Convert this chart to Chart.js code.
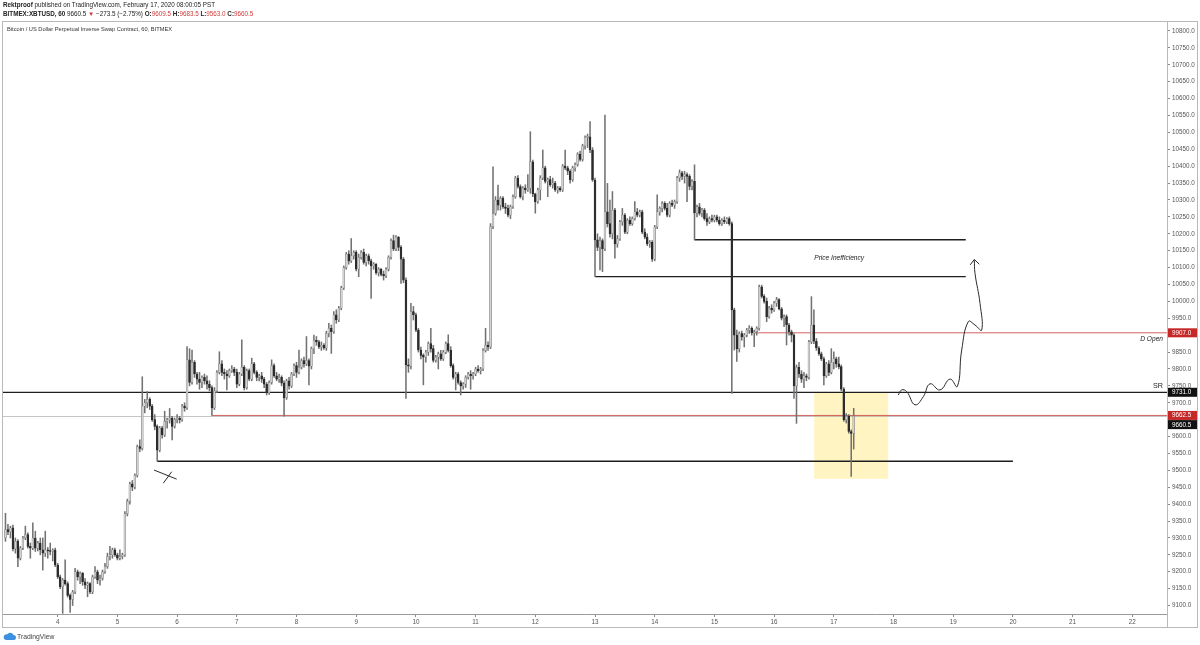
<!DOCTYPE html>
<html><head><meta charset="utf-8">
<script src="https://cdn.jsdelivr.net/npm/chart.js@4.4.1/dist/chart.umd.min.js"></script>
<style>
html,body{margin:0;padding:0;background:#fff;}
#wrap{position:relative;width:1200px;height:645px;overflow:hidden;font-family:"Liberation Sans",Arial,sans-serif;}
#c{position:absolute;left:0;top:0;}
.t{position:absolute;white-space:nowrap;line-height:1;color:#222;}
.red{color:#d23a3a}
</style></head><body>
<div id="wrap">
<canvas id="c" width="1200" height="645"></canvas>
<div class="t" style="left:3px;top:2px;font-size:6.3px"><b>Rektproof</b> published on TradingView.com, February 17, 2020 08:00:05 PST</div>
<div class="t" style="left:3px;top:10.5px;font-size:6.3px"><b>BITMEX:XBTUSD, 60</b> 9660.5 <span class="red">▼</span> −273.5 (−2.75%) <b>O:</b><span class="red">9609.5</span> <b>H:</b><span class="red">9683.5</span> <b>L:</b><span class="red">9563.0</span> <b>C:</b><span class="red">9660.5</span></div>
<div class="t" style="left:7px;top:27px;font-size:5.7px;color:#333">Bitcoin / US Dollar Perpetual Inverse Swap Contract, 60, BITMEX</div>
<svg style="position:absolute;left:3px;top:632px" width="13" height="8" viewBox="0 0 26 16"><path d="M6 16 H21 A5 5 0 0 0 21 6 A7 7 0 0 0 8.5 4.5 A5.5 5.5 0 0 0 6 16Z" fill="#3d8fe0"/></svg>
<div class="t" style="left:17px;top:634px;font-size:6.8px;color:#444">TradingView</div>
</div>
<script>
// ---- hourly candles [open, high, low, close] per day (Feb 2020) ----
const feb03 = [[9300,9373,9290,9325],[9325,9340,9310,9318],[9318,9335,9300,9330],[9330,9338,9262,9268],[9268,9300,9255,9290],[9290,9295,9215,9240],[9240,9275,9235,9270],[9270,9305,9265,9300],[9300,9335,9295,9310],[9310,9315,9270,9275],[9275,9285,9240,9270],[9270,9345,9265,9300],[9300,9320,9260,9270],[9270,9290,9262,9285],[9285,9300,9250,9265],[9265,9300,9205,9255],[9255,9320,9245,9265],[9265,9272,9240,9262],[9262,9285,9250,9260],[9260,9268,9232,9264],[9264,9270,9215,9220]];
const feb04 = [[9220,9225,9180,9185],[9185,9190,9150,9156],[9156,9180,9077,9175],[9175,9235,9160,9165],[9165,9170,9125,9130],[9130,9135,9080,9118],[9118,9145,9100,9140],[9140,9210,9135,9200],[9200,9205,9175,9185],[9185,9200,9165,9195],[9195,9198,9160,9170],[9170,9180,9150,9160],[9160,9170,9126,9165],[9165,9168,9135,9140],[9140,9190,9135,9185],[9185,9215,9180,9200],[9200,9205,9165,9175],[9175,9190,9160,9180],[9180,9205,9175,9200],[9200,9225,9195,9215],[9215,9255,9210,9245],[9245,9275,9235,9250],[9250,9270,9240,9265],[9265,9270,9245,9250]];
const feb05 = [[9250,9255,9235,9240],[9240,9265,9235,9245],[9245,9255,9238,9250],[9250,9378,9245,9372],[9372,9415,9365,9408],[9408,9465,9400,9460],[9460,9470,9440,9450],[9450,9490,9445,9485],[9485,9575,9480,9570],[9570,9590,9555,9565],[9565,9777,9560,9690],[9690,9710,9670,9700],[9700,9733,9685,9710],[9710,9715,9680,9690],[9690,9695,9645,9650],[9650,9665,9620,9630],[9630,9635,9527,9560],[9560,9630,9555,9625],[9625,9630,9595,9605],[9605,9675,9600,9645],[9645,9655,9625,9650],[9650,9683,9640,9655],[9655,9660,9590,9630],[9630,9655,9625,9650]];
const feb06 = [[9650,9665,9640,9655],[9655,9660,9640,9650],[9650,9695,9645,9690],[9690,9700,9675,9685],[9685,9866,9680,9827],[9827,9860,9750,9760],[9760,9856,9755,9820],[9820,9825,9775,9785],[9785,9790,9755,9770],[9770,9790,9740,9760],[9760,9780,9745,9775],[9775,9785,9755,9765],[9765,9780,9740,9755],[9755,9765,9735,9745],[9745,9750,9662.5,9685],[9685,9745,9680,9735],[9735,9795,9730,9790],[9790,9851,9785,9815],[9815,9825,9780,9790],[9790,9800,9770,9785],[9785,9795,9738,9780],[9780,9800,9775,9795],[9795,9810,9790,9800],[9800,9805,9780,9790]];
const feb07 = [[9790,9800,9745,9755],[9755,9790,9750,9785],[9785,9886,9780,9805],[9805,9810,9738,9745],[9745,9800,9740,9795],[9795,9800,9765,9770],[9770,9832,9765,9815],[9815,9820,9785,9790],[9790,9795,9765,9775],[9775,9785,9765,9780],[9780,9790,9760,9770],[9770,9775,9745,9755],[9755,9760,9723,9730],[9730,9765,9725,9760],[9760,9827,9755,9810],[9810,9815,9775,9780],[9780,9790,9765,9770],[9770,9785,9760,9775],[9775,9780,9750,9758],[9758,9765,9660,9715],[9715,9770,9710,9765],[9765,9775,9740,9750],[9750,9790,9745,9785],[9785,9815,9780,9810]];
const feb08 = [[9810,9820,9775,9790],[9790,9856,9785,9805],[9805,9830,9800,9825],[9825,9835,9805,9815],[9815,9896,9810,9825],[9825,9830,9753,9808],[9808,9865,9800,9860],[9860,9900,9845,9885],[9885,9896,9870,9880],[9880,9885,9860,9865],[9865,9880,9855,9870],[9870,9875,9858,9862],[9862,9912,9855,9905],[9905,9935,9895,9920],[9920,9930,9846,9910],[9910,9970,9905,9960],[9960,9975,9935,9945],[9945,9985,9940,9980],[9980,10045,9975,10040],[10040,10105,10035,10100],[10100,10145,10095,10140],[10140,10150,10110,10120],[10120,10186,10115,10135],[10135,10150,10125,10145]];
const feb09 = [[10145,10150,10090,10095],[10095,10140,10073,10130],[10130,10150,10125,10145],[10145,10155,10110,10115],[10115,10140,10105,10135],[10135,10140,10110,10120],[10120,10125,10009,10105],[10105,10115,10095,10110],[10110,10112,10080,10085],[10085,10100,10075,10095],[10095,10098,10075,10080],[10080,10090,10063,10075],[10075,10100,10070,10095],[10095,10135,10090,10130],[10130,10185,10125,10180],[10180,10196,10150,10155],[10155,10195,10150,10190],[10190,10192,10150,10160],[10160,10165,10053,10125],[10125,10130,10055,10063],[10063,10070,9713,9812],[9812,9830,9790,9808],[9808,9994,9800,9970],[9970,9985,9945,9960]];
const feb10 = [[9960,9965,9910,9915],[9915,9920,9850,9856],[9856,9865,9830,9840],[9840,9845,9753,9835],[9835,9855,9820,9850],[9850,9880,9840,9875],[9875,9920,9850,9860],[9860,9870,9820,9825],[9825,9840,9820,9835],[9835,9850,9800,9845],[9845,9855,9825,9830],[9830,9855,9825,9850],[9850,9880,9845,9875],[9875,9901,9850,9855],[9855,9866,9805,9810],[9810,9815,9770,9775],[9775,9790,9738,9785],[9785,9790,9755,9760],[9760,9765,9723,9750],[9750,9760,9740,9755],[9755,9780,9745,9775],[9775,9790,9770,9785],[9785,9795,9740,9780],[9780,9790,9770,9785]];
const feb11 = [[9785,9805,9780,9800],[9800,9810,9790,9795],[9795,9805,9785,9800],[9800,9860,9795,9855],[9855,9920,9850,9870],[9870,9880,9855,9865],[9865,10230,9860,10221],[10221,10398,10215,10260],[10260,10310,10255,10300],[10300,10344,10270,10285],[10285,10310,10270,10305],[10305,10310,10275,10280],[10280,10290,10260,10275],[10275,10285,10250,10255],[10255,10285,10245,10280],[10280,10315,10275,10310],[10310,10370,10305,10365],[10365,10372,10335,10340],[10340,10345,10305,10310],[10310,10340,10300,10335],[10335,10345,10320,10330],[10330,10375,10325,10335],[10335,10502,10320,10413],[10413,10418,10310,10318]];
const feb12 = [[10318,10320,10261,10295],[10295,10335,10290,10330],[10330,10372,10300,10365],[10365,10448,10360,10395],[10395,10400,10350,10355],[10355,10365,10310,10360],[10360,10370,10340,10345],[10345,10365,10335,10350],[10350,10355,10325,10330],[10330,10340,10320,10335],[10335,10340,10325,10330],[10330,10405,10325,10400],[10400,10448,10390,10395],[10395,10400,10375,10385],[10385,10390,10350,10360],[10360,10400,10355,10395],[10395,10410,10385,10405],[10405,10440,10400,10435],[10435,10445,10415,10420],[10420,10465,10415,10460],[10460,10490,10450,10485],[10485,10495,10455,10487],[10487,10532,10440,10448],[10448,10455,10355,10359]];
const feb13 = [[10359,10365,10073,10182],[10182,10200,10150,10160],[10160,10190,10093,10180],[10180,10185,10088,10155],[10155,10551,10150,10265],[10265,10349,10220,10230],[10230,10300,10190,10200],[10200,10325,10185,10270],[10270,10275,10128,10170],[10170,10195,10160,10185],[10185,10240,10180,10235],[10235,10275,10225,10255],[10255,10260,10200,10205],[10205,10245,10200,10240],[10240,10250,10225,10230],[10230,10250,10225,10245],[10245,10295,10240,10265],[10265,10275,10250,10255],[10255,10270,10250,10265],[10265,10270,10200,10205],[10205,10215,10185,10190],[10190,10200,10165,10170],[10170,10180,10160,10175],[10175,10180,10118,10125]];
const feb14 = [[10125,10225,10120,10220],[10220,10315,10215,10265],[10265,10280,10255,10275],[10275,10295,10265,10290],[10290,10295,10270,10275],[10275,10290,10250,10255],[10255,10295,10250,10290],[10290,10300,10280,10285],[10285,10300,10275,10295],[10295,10370,10290,10365],[10365,10389,10355,10380],[10380,10385,10360,10370],[10370,10385,10350,10375],[10375,10380,10295,10370],[10370,10375,10330,10340],[10340,10360,10330,10355],[10355,10404,10182,10262],[10262,10285,10250,10280],[10280,10290,10255,10260],[10260,10275,10250,10270],[10270,10275,10240,10245],[10245,10260,10225,10235],[10235,10250,10230,10245],[10245,10255,10235,10240]];
const feb15 = [[10240,10255,10235,10250],[10250,10255,10235,10240],[10240,10250,10225,10230],[10230,10245,10225,10240],[10240,10250,10230,10235],[10235,10248,10230,10245],[10245,10250,10225,10230],[10230,10235,9728,9975],[9975,9980,9856,9900],[9900,9915,9822,9860],[9860,9910,9850,9905],[9905,9912,9885,9895],[9895,9905,9865,9900],[9900,9920,9895,9915],[9915,9928,9905,9920],[9920,9925,9900,9907],[9907,9915,9866,9910],[9910,9925,9900,9920],[9920,10048,9915,10043],[10043,10048,10010,10015],[10015,10020,9995,10000],[10000,10010,9940,9955],[9955,9985,9950,9980],[9980,9990,9965,9975]];
const feb16 = [[9975,10000,9970,9995],[9995,10012,9985,10005],[10005,10008,9975,9978],[9978,9982,9945,9950],[9950,9960,9925,9955],[9955,9960,9871,9930],[9930,9935,9900,9910],[9910,9915,9880,9900],[9900,9905,9713,9750],[9750,9812,9639,9805],[9805,9820,9775,9785],[9785,9795,9760,9770],[9770,9790,9745,9780],[9780,9785,9765,9775],[9775,9885,9770,9880],[9880,10014,9875,9930],[9930,9975,9875,9882],[9882,9890,9855,9862],[9862,9866,9840,9845],[9845,9850,9825,9830],[9830,9835,9753,9780],[9780,9820,9775,9815],[9815,9825,9780,9790],[9790,9860,9785,9820]];
const feb17 = [[9820,9851,9800,9830],[9830,9835,9805,9815],[9815,9835,9800,9807],[9807,9812,9735,9740],[9740,9745,9645,9650],[9650,9668,9640,9660],[9660,9665,9610,9615],[9615,9620,9482,9609.5],[9609.5,9683.5,9563,9660.5]];

const firstCandleDay = 3 + 3 / 24;          // Feb 3, 03:00 (x axis is in day-of-month units)
const dayTicks = [4,5,6,7,8,9,10,11,12,13,14,15,16,17,18,19,20,21,22];
const priceTicks = [9100,9150,9200,9250,9300,9350,9400,9450,9500,9550,9600,9650,9700,9750,9800,9850,9900,9950,10000,10050,10100,10150,10200,10250,10300,10350,10400,10450,10500,10550,10600,10650,10700,10750,10800];

// drawn levels: price, from-day, to-day
const levelPrices = [9731, 9907, 9662.5, 9527, 10182, 10073];
const levelFrom   = [3.08, 15.67, 6.583, 5.667, 14.667, 13.0];
const levelTo     = [22.6, 22.6, 22.6, 20.0, 19.21, 19.21];
const lastPrice = 9660.5;
const tagPrices = [9907, 9731, 9662.5, 9660.5];
const zoneDays = [16.67, 17.91];
const zonePrices = [9475, 9731];
// hand-drawn projection path (day, price)
const pathDays   = [18.08, 18.137, 18.221, 18.36, 18.499, 18.611, 18.779, 18.946, 19.069, 19.142, 19.253, 19.365, 19.477, 19.449, 19.365, 19.353];
const pathPrices = [9723, 9738, 9733, 9694, 9718, 9756, 9738, 9770, 9748, 9856, 9940, 9930, 9915, 9994, 10083, 10122];
const arrowDays = [19.285, 19.353, 19.437];
const arrowPrices = [10108, 10124, 10110];
const crossADays = [5.613, 5.993], crossAPrices = [9501, 9474];
const crossBDays = [5.769, 5.910], crossBPrices = [9462, 9496];

// ---- build ----
const candles = [].concat(feb03, feb04, feb05, feb06, feb07, feb08, feb09, feb10, feb11, feb12, feb13, feb14, feb15, feb16, feb17);
const times = candles.map((_, i) => firstCandleDay + i / 24);
const FONT = '"Liberation Sans", Arial, sans-serif';
const BULL = '#d2d2d2', BULL_B = '#7a7a7a', BEAR = '#2c2c2c';

const levelStyles = [
  {color: '#1e1e1e', w: 1.3}, {color: 'rgba(205,70,70,0.85)', w: 1}, {color: 'rgba(205,70,70,0.85)', w: 1},
  {color: '#1e1e1e', w: 1.3}, {color: '#1e1e1e', w: 1.5}, {color: '#1e1e1e', w: 1.3}
];
const levelSets = levelPrices.map((p, k) => ({
  type: 'line', data: [{x: levelFrom[k], y: p}, {x: levelTo[k], y: p}],
  borderColor: levelStyles[k].color, borderWidth: levelStyles[k].w, pointRadius: 0, order: 6
}));
const pen = (xs, ys, tension) => ({
  type: 'line', data: xs.map((d, i) => ({x: d, y: ys[i]})),
  borderColor: '#2a2a2a', borderWidth: 1, pointRadius: 0, tension: tension, order: 0
});

const overlay = {
  id: 'overlay',
  beforeDatasetsDraw(chart) {
    const {ctx, chartArea: a, scales: {x, y}} = chart;
    ctx.save();
    ctx.beginPath(); ctx.rect(a.left, a.top, a.right - a.left, a.bottom - a.top); ctx.clip();
    const x0 = x.getPixelForValue(zoneDays[0]), x1 = x.getPixelForValue(zoneDays[1]);
    const y0 = y.getPixelForValue(zonePrices[1]), y1 = y.getPixelForValue(zonePrices[0]);
    ctx.fillStyle = 'rgba(255,230,120,0.45)';
    ctx.fillRect(x0, y0, x1 - x0, y1 - y0);
    const ly = Math.round(y.getPixelForValue(lastPrice)) + 0.5;
    ctx.strokeStyle = 'rgba(150,150,150,0.55)'; ctx.lineWidth = 1;
    ctx.beginPath(); ctx.moveTo(a.left, ly); ctx.lineTo(a.right, ly); ctx.stroke();
    ctx.restore();
  },
  afterDatasetsDraw(chart) {
    const {ctx, chartArea: a, scales: {x, y}} = chart;
    ctx.save();
    ctx.fillStyle = '#222'; ctx.textBaseline = 'middle';
    ctx.font = 'italic 6.6px ' + FONT; ctx.textAlign = 'center';
    ctx.fillText('Price Inefficiency', x.getPixelForValue(17.09), y.getPixelForValue((levelPrices[4] + levelPrices[5]) / 2));
    ctx.textAlign = 'right';
    ctx.fillText('D Open', a.right - 4, y.getPixelForValue(levelPrices[1]) + 6);
    ctx.font = '7.2px ' + FONT;
    ctx.fillText('SR', a.right - 4, y.getPixelForValue(levelPrices[0]) - 6);
    ctx.restore();
  },
  afterDraw(chart) {
    const {ctx, chartArea: a, scales: {y}} = chart;
    ctx.save();
    const colors = ['#c62828', '#111', '#c62828', '#111'];
    const shift = [0, 0, 0, 8.5];
    tagPrices.forEach((p, k) => {
      const cy = y.getPixelForValue(p) + shift[k];
      ctx.fillStyle = colors[k];
      ctx.fillRect(a.right + 1, cy - 4.5, 29, 9);
      ctx.fillStyle = '#fff'; ctx.font = '6.3px ' + FONT; ctx.textAlign = 'left'; ctx.textBaseline = 'middle';
      ctx.fillText(p.toFixed(1), a.right + 5, cy + 0.3);
    });
    ctx.strokeStyle = '#b8b8b8'; ctx.lineWidth = 1;
    ctx.strokeRect(2.5, 21.5, 1195, 606);
    ctx.beginPath(); ctx.moveTo(a.right + 0.5, a.top); ctx.lineTo(a.right + 0.5, 628); ctx.stroke();
    ctx.restore();
  }
};

new Chart(document.getElementById('c'), {
  type: 'bar',
  data: {
    datasets: [
      {
        label: 'body', data: candles.map((c, i) => ({x: times[i], y: [c[0], c[3]]})),
        backgroundColor: ctx => { const c = candles[ctx.dataIndex]; return c[3] >= c[0] ? BULL : BEAR; },
        borderColor: ctx => { const c = candles[ctx.dataIndex]; return c[3] >= c[0] ? BULL_B : BEAR; },
        borderWidth: 0.5, borderSkipped: false, barThickness: 1.9, minBarLength: 1, grouped: false, order: 2
      },
      {
        label: 'wick', data: candles.map((c, i) => ({x: times[i], y: [c[2], c[1]]})),
        backgroundColor: '#727272', barThickness: 0.9, grouped: false, order: 3
      },
      ...levelSets,
      pen(pathDays, pathPrices, 0.45),
      pen(arrowDays, arrowPrices, 0),
      pen(crossADays, crossAPrices, 0),
      pen(crossBDays, crossBPrices, 0)
    ]
  },
  options: {
    responsive: false, animation: false, devicePixelRatio: 1, events: [],
    layout: {autoPadding: false, padding: {left: 3, top: 22, right: 3, bottom: 17}},
    plugins: {legend: {display: false}, tooltip: {enabled: false}},
    scales: {
      x: {
        type: 'linear', min: 3.0837, max: 22.581, offset: false,
        afterBuildTicks: s => { s.ticks = dayTicks.map(v => ({value: v})); },
        afterFit: s => { s.height = 14; },
        grid: {offset: false, drawOnChartArea: false, drawTicks: true, tickLength: 3, color: '#8a8a8a'},
        border: {display: true, color: '#9a9a9a'},
        ticks: {font: {size: 6.3, family: FONT}, color: '#555', padding: 1, maxRotation: 0, autoSkip: false, callback: v => String(v)}
      },
      y: {
        type: 'linear', position: 'right', min: 9075, max: 10826.6,
        afterBuildTicks: s => { s.ticks = priceTicks.map(v => ({value: v})); },
        afterFit: s => { s.width = 30; },
        grid: {offset: false, drawOnChartArea: false, drawTicks: true, tickLength: 3, color: '#8a8a8a'},
        border: {display: true, color: '#9a9a9a'},
        ticks: {font: {size: 6.3, family: FONT}, color: '#555', padding: 2, autoSkip: false, callback: v => Number(v).toFixed(1)}
      }
    }
  },
  plugins: [overlay]
});
</script>
</body></html>
